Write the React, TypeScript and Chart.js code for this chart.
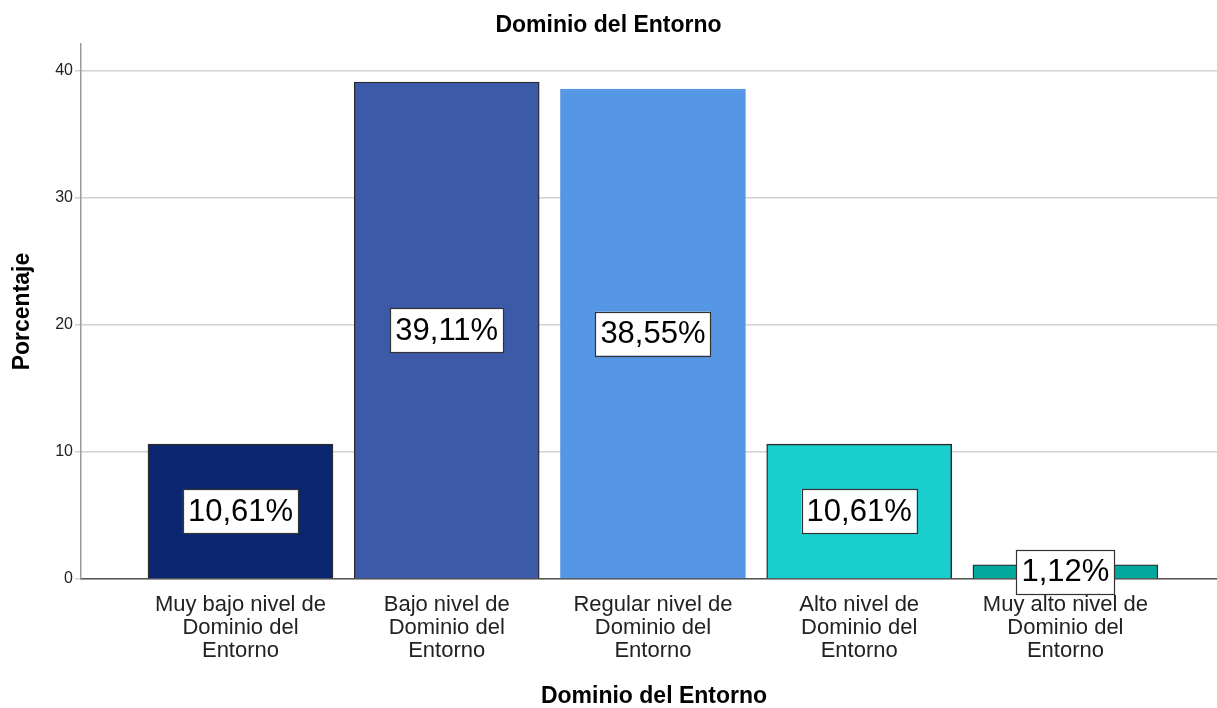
import React, { useEffect, useRef } from "react";
import { Chart, registerables } from "chart.js";

Chart.register(...registerables);

const chartTitle = "Dominio del Entorno";
const xAxisTitle = "Dominio del Entorno";
const yAxisTitle = "Porcentaje";
const categories: string[][] = [
  ["Muy bajo nivel de", "Dominio del", "Entorno"],
  ["Bajo nivel de", "Dominio del", "Entorno"],
  ["Regular nivel de", "Dominio del", "Entorno"],
  ["Alto nivel de", "Dominio del", "Entorno"],
  ["Muy alto nivel de", "Dominio del", "Entorno"],
];
const percentages = [10.61, 39.11, 38.55, 10.61, 1.12];
const valueLabels = ["10,61%", "39,11%", "38,55%", "10,61%", "1,12%"];
const barColors = ["#0b2670", "#3d5aa9", "#5596e5", "#1ccfcf", "#00a99c"];
const barBorders = ["#2a2a2a", "#2a2a2a", "#5596e5", "#2a2a2a", "#2a2a2a"];
const yTicks = [0, 10, 20, 30, 40];

const FONT = "'Liberation Sans', Arial, sans-serif";

const labelPlugin = {
  id: "valueBoxes",
  afterDatasetsDraw(chart: any) {
    const ctx = chart.ctx;
    const meta = chart.getDatasetMeta(0);
    ctx.save();
    ctx.font = `31px ${FONT}`;
    ctx.textAlign = "center";
    ctx.textBaseline = "middle";
    meta.data.forEach((el: any, i: number) => {
      const cx = el.x;
      const cy = (el.y + el.base) / 2;
      const text = valueLabels[i];
      const w = ctx.measureText(text).width + 10;
      const h = 44;
      ctx.fillStyle = "#ffffff";
      ctx.fillRect(cx - w / 2, cy - h / 2, w, h);
      ctx.strokeStyle = "#333333";
      ctx.lineWidth = 1.2;
      ctx.strokeRect(Math.round(cx - w / 2) + 0.5, Math.round(cy - h / 2) + 0.5, Math.round(w), h);
      ctx.fillStyle = "#000000";
      ctx.fillText(text, cx, cy + 1);
    });
    ctx.restore();
  },
};

const titlesPlugin = {
  id: "titlesDraw",
  afterDraw(chart: any) {
    const ctx = chart.ctx;
    const area = chart.chartArea;
    ctx.save();
    ctx.fillStyle = "#000000";
    ctx.font = `bold 23px ${FONT}`;
    ctx.textAlign = "center";
    ctx.textBaseline = "middle";
    ctx.fillText(chartTitle, chart.width / 2, 26);
    ctx.fillText(xAxisTitle, 654, 697);
    ctx.translate(23, (area.top + area.bottom) / 2);
    ctx.rotate(-Math.PI / 2);
    ctx.fillText(yAxisTitle, 0, 0);
    ctx.restore();
  },
};

export default function App() {
  const canvasRef = useRef<HTMLCanvasElement | null>(null);

  useEffect(() => {
    document.body.style.margin = "0";
    const canvas = canvasRef.current;
    if (!canvas) return;
    const chart = new Chart(canvas, {
      type: "bar",
      data: {
        datasets: [
          {
            data: percentages.map((v, i) => ({ x: i, y: v })),
            backgroundColor: barColors,
            borderColor: barBorders,
            borderWidth: 1.4,
            barThickness: 185,
          },
        ],
      },
      options: {
        animation: false,
        responsive: false,
        maintainAspectRatio: false,
        layout: { padding: { top: 44, right: 0, left: 0, bottom: 0 } },
        plugins: {
          legend: { display: false },
          tooltip: { enabled: false },
          title: { display: false },
        },
        scales: {
          x: {
            type: "linear",
            offset: false,
            min: -0.7733,
            max: 4.735,
            afterBuildTicks: (scale: any) => {
              scale.ticks = categories.map((_, i) => ({ value: i }));
            },
            afterFit: (scale: any) => {
              scale.height = 708 - 44 - 535;
            },
            grid: { display: false, drawTicks: false, offset: false },
            border: { display: true, color: "#555555", width: 1.5 },
            ticks: {
              autoSkip: false,
              maxRotation: 0,
              padding: 14,
              color: "#222222",
              font: { family: FONT, size: 22, lineHeight: 1.05 },
              callback: (v: any) => categories[v as number] ?? "",
            },
          },
          y: {
            min: 0,
            max: 42.1,
            afterBuildTicks: (scale: any) => {
              scale.ticks = yTicks.map((v) => ({ value: v }));
            },
            afterFit: (scale: any) => {
              scale.width = 81;
            },
            grid: { color: "#d2d2d2", lineWidth: 1.5, tickLength: 6, drawTicks: true },
            border: { display: true, color: "#9a9a9a", width: 1.5 },
            ticks: {
              padding: 2,
              color: "#222222",
              font: { family: FONT, size: 16 },
            },
          },
        },
      },
      plugins: [labelPlugin, titlesPlugin],
    } as any);
    return () => chart.destroy();
  }, []);

  return (
    <div style={{ width: 1217, height: 708 }}>
      <canvas ref={canvasRef} width={1217} height={708} style={{ display: "block" }} />
    </div>
  );
}
